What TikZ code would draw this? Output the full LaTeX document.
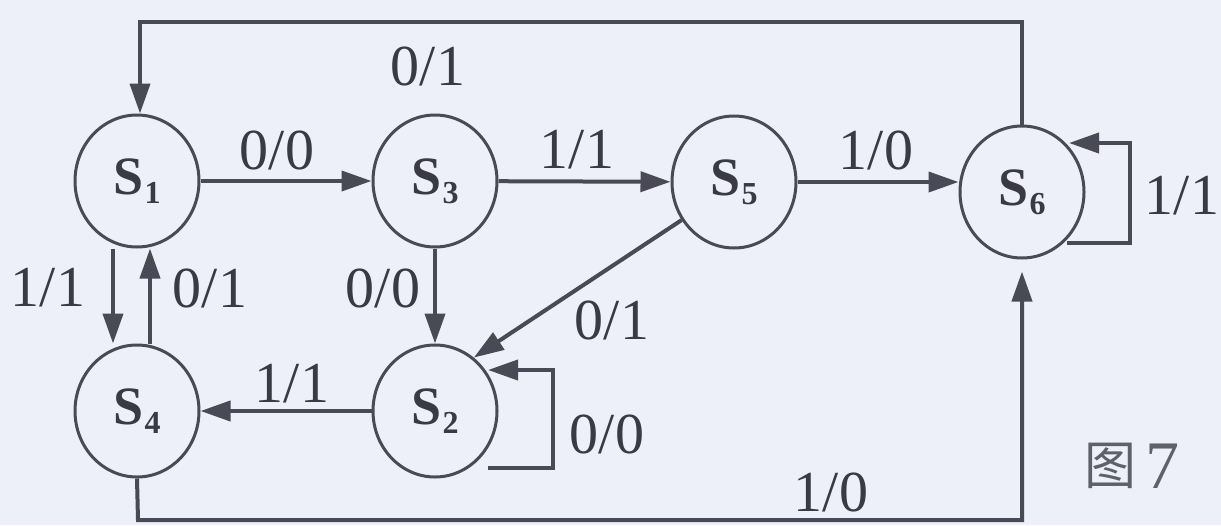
\documentclass[tikz,border=0pt]{standalone}
\usepackage{fontspec}
\setmainfont{Liberation Serif}
\newfontfamily\cjkfont{Noto Sans CJK SC}
\usetikzlibrary{arrows.meta,shapes.geometric}
\definecolor{paper}{RGB}{237,240,248}
\definecolor{ink}{RGB}{74,74,86}
\definecolor{txt}{RGB}{58,58,68}
\definecolor{captxt}{RGB}{96,96,106}
% state name: bold S with a lowered bold index
\newcommand{\sname}[1]{\textbf{S}\kern0.5pt\raisebox{-4.5pt}{\fontsize{16}{16}\selectfont\textbf{#1}}}
\begin{document}
\begin{tikzpicture}[x=0.5pt,y=-0.5pt,
  state/.style={ellipse, draw=ink, line width=1.5pt, minimum width=62pt,
    minimum height=66pt, inner sep=0pt, text=txt, font=\fontsize{27}{30}\selectfont},
  lbl/.style={text=txt, font=\fontsize{29}{34}\selectfont, inner sep=0pt},
  conn/.style={draw=ink, line width=2pt, -{Triangle[length=15pt,width=10pt]}}]
\useasboundingbox (0,0) rectangle (1221,525);
\fill[paper] (0,0) rectangle (1221,525);

% states
\node[state] (S1) at (137,181) {\sname{1}};
\node[state] (S3) at (435,181) {\sname{3}};
\node[state] (S5) at (734,182) {\sname{5}};
\node[state] (S6) at (1022,192) {\sname{6}};
\node[state] (S4) at (137,411) {\sname{4}};
\node[state] (S2) at (435,411) {\sname{2}};

% long return paths
\coordinate (topL) at (140,22);
\draw[conn] (S6.north) |- (topL) -- (topL |- S1.north);
\coordinate (botL) at (138,520);
\draw[conn, shorten >=6pt] (S4.south) -- (botL) -| (S6.south);

% transitions
\draw[conn] (S1) -- (S3);
\draw[conn] (S3) -- (S5);
\draw[conn] (S5.east) -- (S5.east -| S6.west);
\draw[conn] ([xshift=-12pt]S1.south) -- ([xshift=-12pt]S4.north);
\draw[conn] ([xshift=6.5pt]S4.north) -- ([xshift=6.5pt]S1.south);
\draw[conn] (S3) -- (S2);
\draw[conn] (S5.216) -- (S2.54);
\draw[conn] (S2) -- (S4);

% self loops
\coordinate (lpA) at (488,468);
\coordinate (lpB) at (553,370);
\draw[conn] (lpA) -| (lpB) -- (lpB -| S2.35);
\coordinate (lqA) at (1067,243);
\coordinate (lqB) at (1130,143);
\draw[conn] (lqA) -| (lqB) -- (lqB -| S6.44);

% transition labels
\node[lbl] (t61) at (428,66) {0/1};
\node[lbl] (t13) at (277,150) {0/0};
\node[lbl] (t35) at (577,150) {1/1};
\node[lbl] (t56) at (876,150) {1/0};
\node[lbl] (t66) at (1182,196) {1/1};
\node[lbl] (t14) at (48,288) {1/1};
\node[lbl] (t41) at (210,288) {0/1};
\node[lbl] (t32) at (383,288) {0/0};
\node[lbl] (t52) at (612,320) {0/1};
\node[lbl] (t24) at (292,384) {1/1};
\node[lbl] (t22) at (607,434) {0/0};
\node[lbl] (t46) at (831,492) {1/0};

% caption
\node[text=captxt, font=\cjkfont\fontsize{26}{30}\selectfont, inner sep=0pt] (capA) at (1110,466) {图};
\node[text=captxt, font=\fontsize{34}{38}\selectfont, inner sep=0pt] (capB) at (1162,466) {7};
\end{tikzpicture}
\end{document}
